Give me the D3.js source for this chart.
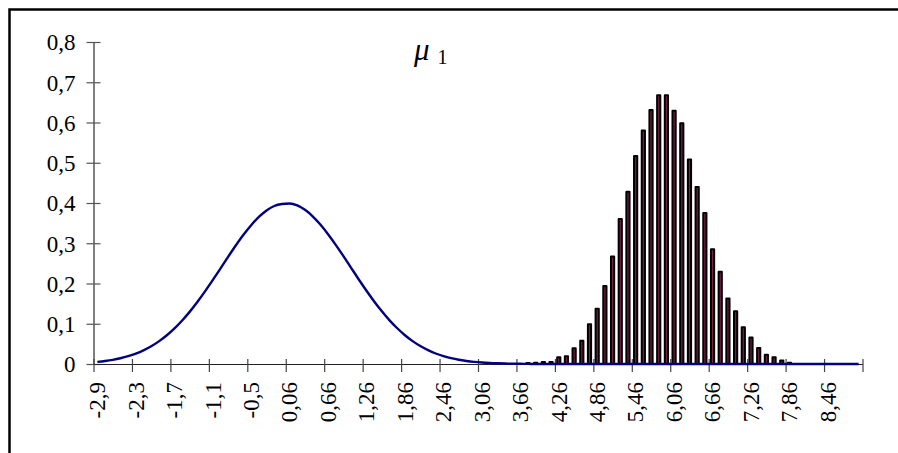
<!DOCTYPE html>
<html>
<head>
<meta charset="utf-8">
<script src="https://cdn.jsdelivr.net/npm/d3@7"></script>
<style>
  body { margin: 0; background: #fff; }
  svg { display: block; }
</style>
</head>
<body>
<svg id="chart" width="898" height="453"></svg>
<script>
// Normal density curve vs. sample histogram (mu_1)

// 100 categories, a label on every fifth one
const categories = d3.range(100);
const tickLabels = ["-2,9", "-2,3", "-1,7", "-1,1", "-0,5", "0,06", "0,66", "1,26", "1,86", "2,46",
                    "3,06", "3,66", "4,26", "4,86", "5,46", "6,06", "6,66", "7,26", "7,86", "8,46"];
const yTicks = [0, 0.1, 0.2, 0.3, 0.4, 0.5, 0.6, 0.7, 0.8];

// density line (blue)
const curveValues = [
  0.0053, 0.0075, 0.0104, 0.0143, 0.0194, 0.0258, 0.0339, 0.0440, 0.0562, 0.0707,
  0.0878, 0.1074, 0.1295, 0.1540, 0.1804, 0.2083, 0.2371, 0.2661, 0.2943, 0.3209,
  0.3448, 0.3653, 0.3814, 0.3925, 0.3975, 0.3989, 0.3940, 0.3830, 0.3670, 0.3465,
  0.3225, 0.2960, 0.2680, 0.2390, 0.2100, 0.1820, 0.1555, 0.1310, 0.1085, 0.0888,
  0.0715, 0.0568, 0.0445, 0.0343, 0.0261, 0.0196, 0.0145, 0.0105, 0.0076, 0.0054,
  0.0037, 0.0025, 0.0017, 0.0012, 0.0008, 0.0005, 0.0003, 0, 0, 0,
  0, 0, 0, 0, 0, 0, 0, 0, 0, 0,
  0, 0, 0, 0, 0, 0, 0, 0, 0, 0,
  0, 0, 0, 0, 0, 0, 0, 0, 0, 0,
  0, 0, 0, 0, 0, 0, 0, 0, 0, 0
];

// histogram bars, starting at category 56
const barStart = 56;
const barValues = [
  0.0025, 0.003, 0.005, 0.005, 0.017, 0.019, 0.039, 0.058, 0.099, 0.137,
  0.194, 0.267, 0.360, 0.428, 0.517, 0.580, 0.631, 0.668, 0.668, 0.629,
  0.598, 0.508, 0.440, 0.375, 0.285, 0.229, 0.163, 0.131, 0.091, 0.066,
  0.040, 0.023, 0.017, 0.009, 0.003, 0.001, 0.001, 0.001, 0.001, 0,
  0, 0.001
];

const svg = d3.select('#chart');
const font = "'Liberation Serif', 'Times New Roman', Times, serif";

// outer frame (right and bottom edges fall outside the picture)
svg.append('rect')
    .attr('x', 9.5).attr('y', 9.5)
    .attr('width', 950).attr('height', 500)
    .attr('fill', 'none')
    .attr('stroke', '#000')
    .attr('stroke-width', 2.5);

const x0 = 93.5, x1 = 862.5;
const xScale = d3.scaleBand()
    .domain(categories)
    .range([x0, x1])
    .padding(0);
const xEdge = d3.scaleLinear().domain([0, categories.length]).range([x0, x1]);
const yScale = d3.scaleLinear().domain([0, 0.8]).range([364, 42]);

// Y axis
const yAxis = svg.append('g')
    .attr('transform', `translate(${x0},0)`)
    .call(d3.axisLeft(yScale)
        .tickValues(yTicks)
        .tickSize(0)
        .tickFormat(d => d === 0 ? '0' : d3.format('.1f')(d).replace('.', ',')));
yAxis.select('.domain').attr('stroke', '#000').attr('stroke-width', 1);
yAxis.selectAll('.tick line')
    .attr('x1', -7).attr('x2', 7)
    .attr('stroke', '#555').attr('stroke-width', 1.2);
yAxis.selectAll('.tick text')
    .attr('x', -18)
    .attr('dy', '0.34em')
    .style('font-family', font)
    .style('font-size', '23px')
    .attr('fill', '#000');

// X axis (ticks on category boundaries)
const xAxis = svg.append('g')
    .attr('transform', `translate(0,${yScale(0)})`)
    .call(d3.axisBottom(xEdge)
        .tickValues(d3.range(0, categories.length + 1, 5))
        .tickSize(0)
        .tickFormat(''));
xAxis.select('.domain').attr('stroke', '#222').attr('stroke-width', 1.2);
xAxis.selectAll('.tick line')
    .attr('y1', -5).attr('y2', 8)
    .attr('stroke', '#444').attr('stroke-width', 1.2);

// X labels, rotated, centred on their category
svg.append('g').selectAll('text')
    .data(tickLabels)
    .enter()
    .append('text')
    .attr('transform', (d, i) => `translate(${xScale(i * 5) + xScale.bandwidth() / 2},382) rotate(-90)`)
    .attr('dy', '0.34em')
    .attr('text-anchor', 'end')
    .style('font-family', font)
    .style('font-size', '23px')
    .attr('fill', '#000')
    .text(d => d);

// histogram bars: black outline, thin maroon core
const barW = 3.2;
svg.append('g').selectAll('rect')
    .data(barValues)
    .enter()
    .append('rect')
    .attr('x', (d, i) => xScale(barStart + i) + xScale.bandwidth() / 2 - barW / 2)
    .attr('y', d => yScale(d))
    .attr('width', barW)
    .attr('height', d => yScale(0) - yScale(d))
    .attr('fill', '#7a1f45')
    .attr('stroke', '#000')
    .attr('stroke-width', d => d < 0.002 ? 0.6 : 2)
    .attr('stroke-linejoin', 'round');

// density line
const line = d3.line()
    .x((d, i) => xScale(categories[i]) + xScale.bandwidth() / 2)
    .y(d => yScale(d))
    .curve(d3.curveMonotoneX);

svg.append('path')
    .datum(curveValues)
    .attr('d', line)
    .attr('fill', 'none')
    .attr('stroke', '#000080')
    .attr('stroke-width', 2.4);

// mu_1 label
const mu = svg.append('text')
    .attr('x', 414).attr('y', 60)
    .style('font-family', font)
    .attr('fill', '#000');
mu.append('tspan')
    .style('font-style', 'italic')
    .style('font-size', '31px')
    .text('\u03BC');
mu.append('tspan')
    .attr('dx', 8).attr('dy', 4)
    .style('font-size', '20px')
    .text('1');
</script>
</body>
</html>
